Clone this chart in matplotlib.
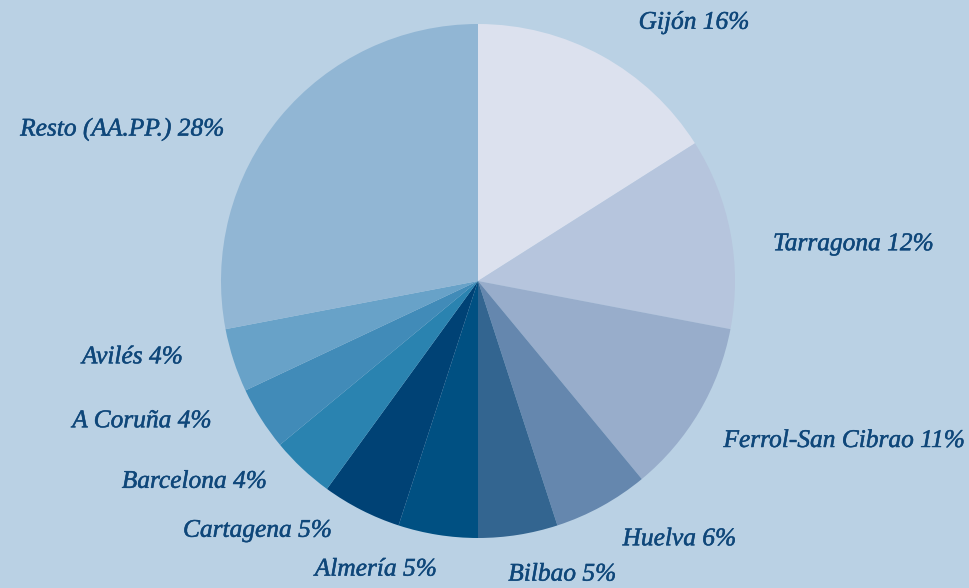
import numpy as np
import matplotlib.pyplot as plt
import matplotlib.patheffects as pe

puertos = ['Gijón', 'Tarragona', 'Ferrol-San Cibrao', 'Huelva', 'Bilbao', 'Almería',
           'Cartagena', 'Barcelona', 'A Coruña', 'Avilés', 'Resto (AA.PP.)']
porcentajes = [16, 12, 11, 6, 5, 5, 5, 4, 4, 4, 28]
colores = ['#dce1ee', '#b6c5dd', '#98adcb', '#6587ae', '#336590', '#005082',
           '#004275', '#2a83b0', '#418bb8', '#68a2c8', '#91b6d4']

# desplazamiento de etiquetas en pixeles (dx, dy hacia abajo)
ajustes = [(12, 12), (-8, 21), (-20, 3), (-4, -12), (-18, -11), (7, -16),
           (-6, -25), (0, -24), (-6, -25), (-2, -19), (-16, 45)]

fondo = '#bad1e4'
W, H = 969, 588
cx, cy, R = 478, 281, 257

fig = plt.figure(figsize=(W / 100, H / 100), dpi=100, facecolor=fondo)
ax = fig.add_axes([0, 0, 1, 1])
ax.set_facecolor(fondo)

etiquetas = [f'{p} {v}%' for p, v in zip(puertos, porcentajes)]
wedges, textos = ax.pie(porcentajes, labels=etiquetas, colors=colores, startangle=90,
                        counterclock=False, labeldistance=1.2,
                        wedgeprops=dict(linewidth=0),
                        textprops=dict(family='Liberation Serif', style='italic',
                                       fontsize=18.3, color='#0f477a'))
for t, (dx, dy) in zip(textos, ajustes):
    x, y = t.get_position()
    t.set_position((x + dx / R, y - dy / R))
    t.set_path_effects([pe.withStroke(linewidth=0.35, foreground='#0f477a')])

ax.set_xlim(-cx / R, (W - cx) / R)
ax.set_ylim(-(H - cy) / R, cy / R)
ax.axis('off')

fig.savefig('out.png', dpi=100, facecolor=fondo)
